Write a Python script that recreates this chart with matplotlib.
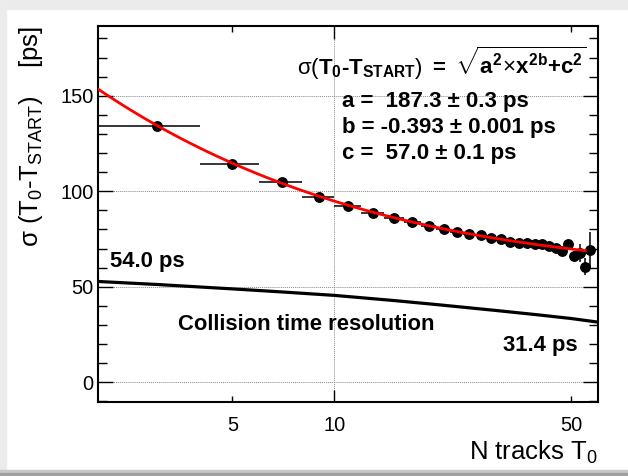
import numpy as np
import matplotlib
matplotlib.use("Agg")
import matplotlib.pyplot as plt
from matplotlib.ticker import MultipleLocator, FixedLocator, FixedFormatter
from matplotlib.patches import Rectangle

plt.rcParams['font.family'] = ['Liberation Sans', 'DejaVu Sans']
plt.rcParams['mathtext.fontset'] = 'custom'
plt.rcParams['mathtext.rm'] = 'Liberation Sans'
plt.rcParams['mathtext.it'] = 'Liberation Sans'
plt.rcParams['mathtext.bf'] = 'Liberation Sans:bold'

# ---- data ----
n_tracks = [3, 5, 7, 9, 11, 13, 15, 17, 19, 21, 23, 25, 27, 29, 31, 33, 35, 37,
            39, 41, 43, 45, 47, 49, 51, 53, 55, 57]
sigma = [134.4, 114.3, 104.6, 97.1, 92.2, 88.7, 86.2, 84.0, 81.7, 80.2, 78.7,
         77.6, 77.0, 75.5, 74.8, 73.7, 73.0, 72.7, 72.2, 72.2, 71.3, 70.1, 68.7,
         72.2, 66.1, 67.8, 60.5, 69.2]
sigma_err = [0.3, 0.3, 0.3, 0.3, 0.3, 0.3, 0.3, 0.4, 0.4, 0.4, 0.5, 0.5, 0.6,
             0.6, 0.7, 0.8, 0.9, 1.0, 1.1, 1.2, 1.4, 1.6, 1.9, 2.3, 2.8, 4.8,
             4.5, 9.6]
bin_half_width = [1] * len(n_tracks)

# fit parameters
fit_a, fit_b, fit_c = 187.3, -0.393, 57.0
fit_range = (2, 55)

# collision time resolution curve
coll_n = [2, 3, 5, 7, 10, 15, 20, 25, 30, 40, 50, 60]
coll_res = [52.8, 51.2, 48.9, 47.3, 45.5, 42.8, 40.7, 39.0, 37.6, 35.3, 33.4, 31.5]

W, H = 628, 476
fig = plt.figure(figsize=(W / 100, H / 100), dpi=100)

# screenshot-like border
fig.patches.append(Rectangle((0, 1 - 9 / H), 1, 9 / H, transform=fig.transFigure,
                             color='#ebebeb', zorder=0))
fig.patches.append(Rectangle((0, 0), 6 / W, 1, transform=fig.transFigure,
                             color='#ececec', zorder=0))
fig.patches.append(Rectangle((0, 3 / H), 1, 3 / H, transform=fig.transFigure,
                             color='#c8c8c8', zorder=0))
fig.patches.append(Rectangle((0, 0), 1, 3 / H, transform=fig.transFigure,
                             color='#a0a0a0', zorder=0))

L, R, T, B = 97.7, 598, 26, 402
ax = fig.add_axes([L / W, 1 - B / H, (R - L) / W, (B - T) / H])

ax.set_xscale('log')
ax.set_xlim(2, 60)
ax.set_ylim(-10.3, 186.5)

# data points
ax.errorbar(n_tracks, sigma, xerr=bin_half_width, yerr=sigma_err, fmt='o',
            color='black', ms=6.8, lw=1.1, capsize=0, zorder=4)

# fit curve (drawn over the points)
xf = np.geomspace(fit_range[0], fit_range[1], 300)
yf = np.sqrt(fit_a ** 2 * xf ** (2 * fit_b) + fit_c ** 2)
ax.plot(xf, yf, color='#ff0000', lw=2.0, zorder=5)

# collision time resolution
ax.plot(coll_n, coll_res, color='black', lw=2.3, zorder=3)

# ticks
ax.xaxis.set_major_locator(FixedLocator([10]))
ax.xaxis.set_major_formatter(FixedFormatter(['10']))
ax.xaxis.set_minor_locator(FixedLocator([5, 50]))
ax.xaxis.set_minor_formatter(FixedFormatter(['5', '50']))
ax.yaxis.set_major_locator(FixedLocator([0, 50, 100, 150]))
ax.yaxis.set_minor_locator(MultipleLocator(10))

ax.tick_params(which='both', direction='in', top=True, right=True, width=1.0,
               labelsize=14.4, colors='black')
ax.tick_params(axis='y', which='major', length=11, pad=3)
ax.tick_params(axis='y', which='minor', length=6.5)
ax.tick_params(axis='x', which='major', length=9, pad=10)
ax.tick_params(axis='x', which='minor', length=4.5, pad=10, labelsize=14.4)

for s in ax.spines.values():
    s.set_linewidth(1.5)

ax.grid(True, which='major', linestyle=(0, (1, 1)), color='#888888', lw=0.7)
ax.set_axisbelow(True)

ax.set_xlabel(r'N tracks $T_{0}$', fontsize=18.5, loc='right')
ax.xaxis.set_label_coords(1.0, (B - 466) / (B - T))
ax.xaxis.label.set_va('bottom')
ax.set_ylabel(r'$\sigma\ (T_{0}$-$T_{START})\ \ \ \ [ps]$', fontsize=18.5, loc='top')
ax.yaxis.set_label_coords((45 - L) / (R - L), 1.0)

def fx(px):
    return px / W

def fy(py):
    return 1 - py / H

fig.text(fx(587), fy(63),
         r'$\sigma(\mathbf{T_{0}}$-$\mathbf{T_{START}})\ \mathbf{=}\ \sqrt{\mathbf{a^{2}}\!\times\!\mathbf{x^{2b}}\mathbf{+c^{2}}}$',
         fontsize=16, fontweight='bold', ha='right', va='center')
fig.text(fx(341.7), fy(102), 'a =  187.3 \u00b1 0.3 ps', fontsize=16,
         fontweight='bold', ha='left', va='center')
fig.text(fx(341.7), fy(127.5), 'b = -0.393 \u00b1 0.001 ps', fontsize=16,
         fontweight='bold', ha='left', va='center')
fig.text(fx(341.7), fy(153), 'c =  57.0 \u00b1 0.1 ps', fontsize=16,
         fontweight='bold', ha='left', va='center')

fig.text(fx(110), fy(261), '54.0 ps', fontsize=15.8, fontweight='bold',
         ha='left', va='center')
fig.text(fx(178), fy(324), 'Collision time resolution', fontsize=15.8,
         fontweight='bold', ha='left', va='center')
fig.text(fx(503), fy(345), '31.4 ps', fontsize=15.8, fontweight='bold',
         ha='left', va='center')

fig.savefig('out.png', dpi=100)
